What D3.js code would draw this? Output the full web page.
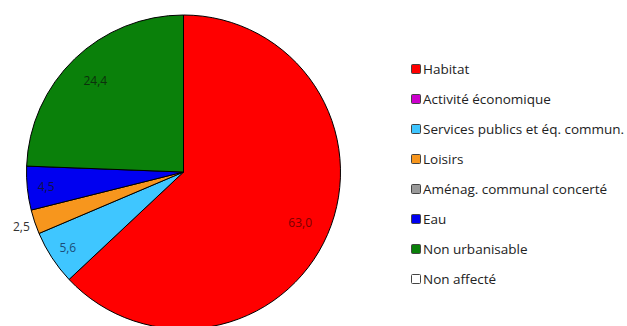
<!DOCTYPE html>
<html>
<head>
<meta charset="utf-8">
<script src="https://cdn.jsdelivr.net/npm/d3@7"></script>
<style>
  body { margin: 0; background: #fff; }
  svg { display: block; font-family: "Open Sans", sans-serif; }
</style>
</head>
<body>
<div id="chart"></div>
<script>
// Land use shares (%), in the order the slices run clockwise from 12 o'clock
const categories = [
    'Habitat',
    'Activité économique',
    'Services publics et éq. commun.',
    'Loisirs',
    'Aménag. communal concerté',
    'Eau',
    'Non urbanisable',
    'Non affecté'
];
const values = [63.0, 0, 5.6, 2.5, 0, 4.5, 24.4, 0];
const colors = ['#ff0000', '#cc00cc', '#3fc6ff', '#f7961d', '#9a9a9a', '#0000f0', '#0a800a', '#ffffff'];
const labelColors = ['#7a0000', '#600060', '#1b4d78', '#333333', '#444444', '#10104a', '#0c300c', '#333333'];

const width = 627, height = 326;
const cx = 183.5, cy = 172, radius = 157;

const svg = d3.select('#chart')
    .append('svg')
    .attr('width', width)
    .attr('height', height);

const data = categories.map((name, i) => ({ name, value: values[i], i }));

const pie = d3.pie()
    .sort(null)
    .value(d => d.value);

const arc = d3.arc()
    .innerRadius(0)
    .outerRadius(radius);

const arcs = pie(data).filter(a => a.data.value > 0);

const g = svg.append('g')
    .attr('transform', `translate(${cx},${cy})`);

g.selectAll('path')
    .data(arcs)
    .join('path')
    .attr('d', arc)
    .attr('fill', d => colors[d.data.i])
    .attr('stroke', '#000')
    .attr('stroke-width', 1);

// Value labels: inside for most slices, outside for the thin ones
function labelRadius(v) {
    if (v < 3) return radius + 14;
    if (v < 10) return radius * 0.88;
    return radius * 0.81;
}

g.selectAll('text.val')
    .data(arcs)
    .join('text')
    .attr('class', 'val')
    .attr('transform', d => {
        const a = (d.startAngle + d.endAngle) / 2;
        const r = labelRadius(d.data.value);
        return `translate(${Math.sin(a) * r},${-Math.cos(a) * r})`;
    })
    .attr('text-anchor', 'middle')
    .attr('dy', '0.35em')
    .attr('font-size', 12)
    .attr('fill', d => d.data.value < 3 ? '#333' : labelColors[d.data.i])
    .text(d => d3.format('.1f')(d.data.value).replace('.', ','));

// Legend
const legend = svg.append('g')
    .attr('transform', 'translate(411,69)');

const row = legend.selectAll('g')
    .data(data)
    .join('g')
    .attr('transform', (d, i) => `translate(0,${i * 30})`);

row.append('rect')
    .attr('x', 0.5)
    .attr('y', -4.5)
    .attr('width', 9)
    .attr('height', 9)
    .attr('rx', 1)
    .attr('fill', d => colors[d.i])
    .attr('stroke', '#444')
    .attr('stroke-width', 1);

row.append('text')
    .attr('x', 12)
    .attr('dy', '0.35em')
    .attr('font-size', 13.5)
    .attr('fill', '#222')
    .text(d => d.name);
</script>
</body>
</html>
